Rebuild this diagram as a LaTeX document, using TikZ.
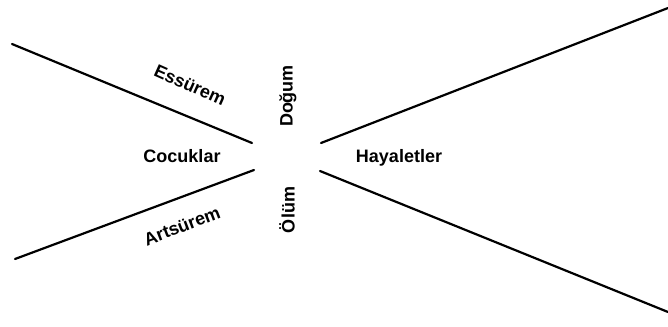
\documentclass[tikz,border=0pt]{standalone}
\usepackage{fontspec}
\setmainfont{Liberation Sans}
\begin{document}
\begin{tikzpicture}[x=1pt,y=-1pt,
  arm/.style={line width=2.2pt,line cap=round},
  lbl/.style={font=\fontsize{18}{21}\selectfont\bfseries,inner sep=0pt}]
\useasboundingbox (0,0) rectangle (668,326);
% end points of the four arms
\coordinate (ulA) at (12,44);
\coordinate (ulB) at (252,143);
\coordinate (llA) at (15,259);
\coordinate (llB) at (254,170);
\coordinate (urA) at (321,143);
\coordinate (urB) at (668,8);
\coordinate (lrA) at (320,171);
\coordinate (lrB) at (668,312);
\draw[arm] (ulA) -- (ulB);
\draw[arm] (llA) -- (llB);
\draw[arm] (urA) -- (urB);
\draw[arm] (lrA) -- (lrB);
% labels
\node[lbl,rotate=-24] (ess) at (190,85) {Essürem};
\node[lbl,rotate=21] (art) at (182,226) {Artsürem};
\node[lbl] (coc) at (182,156) {Cocuklar};
\node[lbl] (hay) at (399,158) {Hayaletler};
\node[lbl,rotate=90] (dog) at (288,96) {Doğum};
\node[lbl,rotate=90] (olu) at (287,210) {Ölüm};
\end{tikzpicture}
\end{document}
